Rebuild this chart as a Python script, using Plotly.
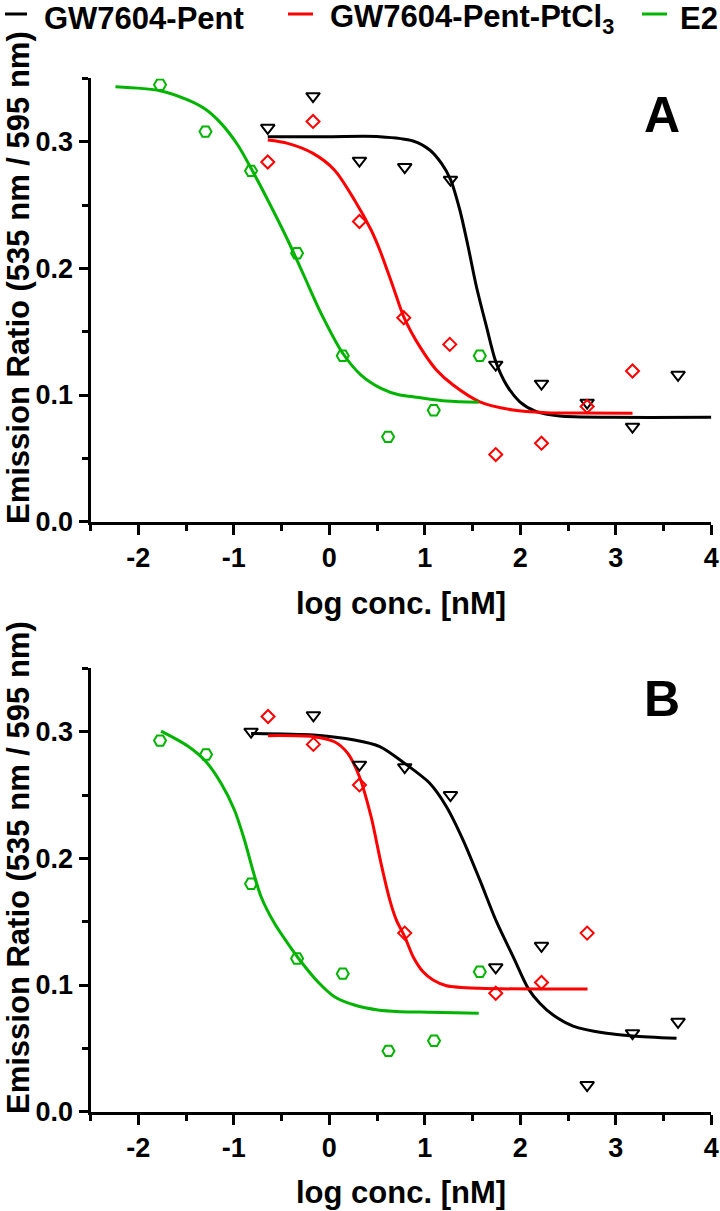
import plotly.graph_objects as go

# ---------------- data ----------------
# Panel A measured points
a_e2_x = [-1.772, -1.296, -0.819, -0.337, 0.141, 0.616, 1.094, 1.576]
a_e2_y = [0.345, 0.308, 0.277, 0.212, 0.131, 0.067, 0.088, 0.131]
a_pt_x = [-0.644, -0.170, 0.316, 0.780, 1.262, 1.743, 2.222, 2.700, 3.175]
a_pt_y = [0.284, 0.316, 0.237, 0.161, 0.140, 0.053, 0.062, 0.091, 0.119]
a_gw_x = [-0.644, -0.170, 0.316, 0.790, 1.269, 1.743, 2.222, 2.700, 3.175, 3.652]
a_gw_y = [0.311, 0.336, 0.285, 0.280, 0.270, 0.124, 0.109, 0.094, 0.075, 0.116]

# Panel A fitted curves
a_e2_fit_x = [-2.239, -1.772, -1.482, -1.296, -1.133, -0.958, -0.819, -0.644, -0.435,
              -0.260, -0.086, 0.141, 0.333, 0.542, 0.738, 0.878, 1.227, 1.565]
a_e2_fit_y = [0.3434, 0.3403, 0.3330, 0.3256, 0.3145, 0.2974, 0.2790, 0.2540, 0.2224,
              0.1934, 0.1645, 0.1330, 0.1158, 0.1053, 0.1000, 0.0987, 0.0953, 0.0943]
a_pt_fit_x = [-0.644, -0.435, -0.170, 0.054, 0.264, 0.438, 0.529, 0.668, 0.780, 0.948,
              1.122, 1.297, 1.576, 1.925, 2.274, 2.623, 3.175]
a_pt_fit_y = [0.3013, 0.2987, 0.2908, 0.2777, 0.2540, 0.2303, 0.2145, 0.1855, 0.1618, 0.1382,
              0.1198, 0.1079, 0.0947, 0.0882, 0.0861, 0.0858, 0.0856]
a_gw_fit_x = [-0.644, 0.000, 0.529, 0.878, 1.052, 1.175, 1.269, 1.367, 1.454, 1.541,
              1.646, 1.743, 1.855, 1.995, 2.169, 2.413, 2.972, 4.000]
a_gw_fit_y = [0.3040, 0.3040, 0.3040, 0.3006, 0.2935, 0.2829, 0.2703, 0.2461, 0.2171, 0.1855,
              0.1540, 0.1264, 0.1080, 0.0947, 0.0869, 0.0834, 0.0824, 0.0824]

# Panel B measured points
b_e2_x = [-1.772, -1.290, -0.819, -0.337, 0.141, 0.620, 1.097, 1.576]
b_e2_y = [0.293, 0.282, 0.180, 0.121, 0.109, 0.048, 0.056, 0.1105]
b_pt_x = [-0.641, -0.166, 0.316, 0.790, 1.743, 2.222, 2.700]
b_pt_y = [0.312, 0.290, 0.258, 0.141, 0.0935, 0.102, 0.141]
b_gw_x = [-0.819, -0.166, 0.316, 0.790, 1.269, 1.743, 2.222, 2.700, 3.175, 3.652]
b_gw_y = [0.300, 0.313, 0.274, 0.272, 0.250, 0.114, 0.131, 0.021, 0.062, 0.071]

# Panel B fitted curves
b_e2_fit_x = [-1.761, -1.482, -1.290, -1.133, -0.993, -0.888, -0.801, -0.714, -0.574, -0.435,
              -0.295, -0.120, 0.054, 0.264, 0.508, 0.738, 1.052, 1.565]
b_e2_fit_y = [0.3005, 0.2887, 0.2763, 0.2593, 0.2382, 0.2145, 0.1908, 0.1697, 0.1487, 0.1329,
              0.1184, 0.1026, 0.0908, 0.0842, 0.0803, 0.0790, 0.0785, 0.0777]
b_pt_fit_x = [-0.641, -0.166, 0.054, 0.194, 0.316, 0.438, 0.542, 0.634, 0.703, 0.790,
              0.878, 0.982, 1.087, 1.227, 1.576, 2.704]
b_pt_fit_y = [0.2969, 0.2961, 0.2921, 0.2829, 0.2645, 0.2329, 0.1961, 0.1671, 0.1513, 0.1382,
              0.1224, 0.1105, 0.1040, 0.0995, 0.0974, 0.0969]
b_gw_fit_x = [-0.819, -0.166, 0.264, 0.529, 0.790, 1.052, 1.227, 1.401, 1.576, 1.751,
              1.925, 2.082, 2.204, 2.344, 2.553, 2.903, 3.181, 3.636]
b_gw_fit_y = [0.2987, 0.2974, 0.2934, 0.2882, 0.2750, 0.2593, 0.2408, 0.2145, 0.1830, 0.1500,
              0.1224, 0.0974, 0.0856, 0.0763, 0.0676, 0.0619, 0.0598, 0.0579]

series_names = ["GW7604-Pent", "GW7604-Pent-PtCl<sub>3</sub>", "E2"]
x_tick_vals = [-2, -1, 0, 1, 2, 3, 4]
x_tick_text = ["-2", "-1", "0", "1", "2", "3", "4"]
y_tick_vals = [0.0, 0.1, 0.2, 0.3]
y_tick_text = ["0.0", "0.1", "0.2", "0.3"]
panel_labels = ["A", "B"]
x_title = "log conc. [nM]"
y_title = "Emission Ratio (535 nm / 595 nm)"

# ---------------- styling ----------------
W, H = 720, 1211
FONT = "Liberation Sans, Arial, sans-serif"
BLACK, RED, GREEN = "#000000", "#FF0000", "#00B400"
LW = 3

fig = go.Figure()

panels = [
    ("x", "y", (a_gw_fit_x, a_gw_fit_y, a_pt_fit_x, a_pt_fit_y, a_e2_fit_x, a_e2_fit_y),
     (a_gw_x, a_gw_y, a_pt_x, a_pt_y, a_e2_x, a_e2_y)),
    ("x2", "y2", (b_gw_fit_x, b_gw_fit_y, b_pt_fit_x, b_pt_fit_y, b_e2_fit_x, b_e2_fit_y),
     (b_gw_x, b_gw_y, b_pt_x, b_pt_y, b_e2_x, b_e2_y)),
]
colors = [BLACK, RED, GREEN]
symbols = ["triangle-down-open", "diamond-open", "hexagon2-open"]
msizes = [12, 10, 12]

for pi, (xa, ya, fits, pts) in enumerate(panels):
    for si in range(3):
        fig.add_trace(go.Scatter(
            x=fits[2 * si], y=fits[2 * si + 1], mode="lines",
            line=dict(color=colors[si], width=LW, shape="spline", smoothing=0.8),
            name=series_names[si], showlegend=False,
            xaxis=xa, yaxis=ya, hoverinfo="skip"))
    for si in range(3):
        fig.add_trace(go.Scatter(
            x=pts[2 * si], y=pts[2 * si + 1], mode="markers", name=series_names[si],
            marker=dict(symbol=symbols[si], size=msizes[si], color=colors[si],
                        line=dict(color=colors[si], width=2)),
            showlegend=False, xaxis=xa, yaxis=ya))

# legend keys on a hidden full-page overlay axis (pixel units)
legend_pos = [(5, 27, 43), (288, 313, 329), (642, 667, 679)]
for (l0, l1, t0), name, col in zip(legend_pos, series_names, colors):
    fig.add_trace(go.Scatter(x=[l0, l1], y=[14, 14], mode="lines",
                             line=dict(color=col, width=LW), name=name, showlegend=False,
                             xaxis="x3", yaxis="y3", hoverinfo="skip", cliponaxis=False))

xdom = [90.5 / W, 711.3 / W]
ydomA = [1 - 521.7 / H, 1 - 78.4 / H]
ydomB = [1 - 1111.7 / H, 1 - 668.4 / H]

tickfont = dict(family=FONT, size=27, color=BLACK, weight="bold")

def xaxis_cfg(anchor):
    return dict(domain=xdom, range=[-2.5, 4], anchor=anchor, showline=True, linewidth=LW,
                linecolor=BLACK, ticks="outside", ticklen=10, tickwidth=LW, tickcolor=BLACK,
                tickvals=x_tick_vals, ticktext=x_tick_text, tickfont=tickfont,
                showgrid=False, zeroline=False, automargin=False,
                minor=dict(dtick=0.5, tick0=0, ticks="outside", ticklen=6, tickwidth=LW,
                           tickcolor=BLACK, showgrid=False))

def yaxis_cfg(anchor, dom):
    return dict(domain=dom, range=[0, 0.35], anchor=anchor, showline=True, linewidth=LW,
                linecolor=BLACK, ticks="outside", ticklen=9, tickwidth=LW, tickcolor=BLACK,
                tickvals=y_tick_vals, ticktext=y_tick_text, tickfont=tickfont,
                showgrid=False, zeroline=False, automargin=False,
                minor=dict(dtick=0.05, tick0=0, ticks="outside", ticklen=6, tickwidth=LW,
                           tickcolor=BLACK, showgrid=False))

fig.update_layout(
    width=W, height=H, margin=dict(l=0, r=0, t=0, b=0),
    paper_bgcolor="white", plot_bgcolor="rgba(0,0,0,0)",
    xaxis=xaxis_cfg("y"), yaxis=yaxis_cfg("x", ydomA),
    xaxis2=xaxis_cfg("y2"), yaxis2=yaxis_cfg("x2", ydomB),
    xaxis3=dict(domain=[0, 1], range=[0, W], anchor="y3", visible=False, fixedrange=True),
    yaxis3=dict(domain=[0, 1], range=[H, 0], anchor="x3", visible=False, fixedrange=True),
    showlegend=False,
)

anns = []
titlefont = dict(family=FONT, size=31, color=BLACK, weight="bold")
legfont = dict(family=FONT, size=31, color=BLACK, weight="bold")

LEG_Y = 1 - 18.5 / H
for (l0, l1, t0), name in zip(legend_pos, series_names):
    anns.append(dict(text=name, xref="paper", yref="paper", x=t0 / W, y=LEG_Y,
                     xanchor="left", yanchor="middle", showarrow=False, font=legfont,
                     borderpad=0))

for i, (ycen_title, ycen_x, ycen_lab) in enumerate([(278, 603, 115), (868, 1192, 699)]):
    anns.append(dict(text=y_title, xref="paper", yref="paper", x=18 / W, y=1 - ycen_title / H,
                     xanchor="center", yanchor="middle", textangle=-90, showarrow=False,
                     font=titlefont, borderpad=0))
    anns.append(dict(text=x_title, xref="paper", yref="paper", x=400.5 / W, y=1 - ycen_x / H,
                     xanchor="center", yanchor="middle", showarrow=False, font=titlefont,
                     borderpad=0))
    anns.append(dict(text=panel_labels[i], xref="paper", yref="paper", x=661.7 / W,
                     y=1 - ycen_lab / H, xanchor="center", yanchor="middle", showarrow=False,
                     font=dict(family=FONT, size=50, color=BLACK, weight="bold"), borderpad=0))
fig.update_layout(annotations=anns)

# remove the browser's default 8px page margin so the figure sits at the window origin
fig.write_html("out.html", config={"displayModeBar": False},
               post_script="document.body.style.margin='0px';document.body.style.padding='0px';")
